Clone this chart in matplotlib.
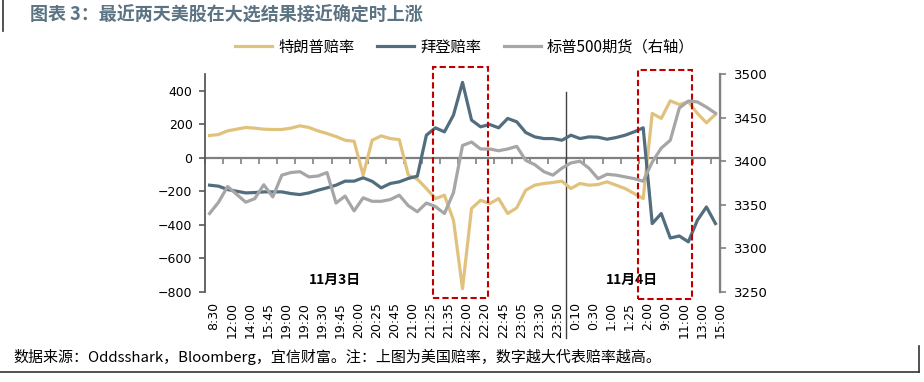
import numpy as np
import matplotlib
matplotlib.use("Agg")
import matplotlib.pyplot as plt
from matplotlib.lines import Line2D
from matplotlib.patches import Rectangle
from matplotlib.transforms import blended_transform_factory

plt.rcParams['font.family'] = ['Noto Sans CJK SC', 'DejaVu Sans']

# x labels, one label per two data points
labels_day1 = ["8:30", "12:00", "14:00", "15:45", "19:00", "19:20", "19:30", "19:45", "20:00", "20:25",
               "20:45", "21:00", "21:25", "21:35", "22:00", "22:20", "22:45", "23:05", "23:30", "23:50"]
labels_day2 = ["0:10", "0:30", "1:00", "1:25", "2:00", "9:00", "11:00", "13:00", "15:00"]

# Trump odds (left axis)
trump = [133, 139, 161, 171, 181, 177, 171, 169, 169, 177, 191, 181, 161, 145, 127, 105, 99, -103, 105,
         131, 115, 109, -103, -127, -183, -243, -223, -372, -780, -302, -253, -273, -243, -332, -298, -193, -163, -153,
         -147, -139, -183, -153, -163, -159, -143, -163, -183, -213, -243, 265, 235, 340, 318, 334, 265, 209, 259]
# Biden odds (left axis)
biden = [-163, -169, -189, -199, -209, -207, -203, -203, -203, -213, -219, -209, -193, -179, -163, -139, -139, -119, -140,
         -179, -153, -143, -123, -109, 135, 179, 155, 255, 450, 225, 185, 199, 179, 235, 215, 151, 125, 115,
         115, 105, 135, 115, 125, 123, 111, 121, 135, 155, 179, -392, -332, -478, -466, -501, -372, -293, -392]
# S&P 500 futures (right axis)
spx = [3340, 3353, 3371, 3362, 3353, 3357, 3373, 3359, 3384, 3387, 3388, 3382, 3383, 3387, 3352, 3360, 3343, 3358, 3354,
       3354, 3356, 3361, 3349, 3342, 3352, 3348, 3340, 3364, 3418, 3422, 3414, 3414, 3412, 3414, 3417, 3401, 3396, 3388,
       3384, 3392, 3398, 3400, 3392, 3380, 3385, 3384, 3382, 3380, 3377, 3399, 3415, 3424, 3461, 3469, 3468, 3462, 3455]

c_trump = "#E0C27C"
c_biden = "#526E7E"
c_spx = "#A6A6A6"

n = len(trump)
x = np.arange(n)
all_labels = labels_day1 + labels_day2

fig = plt.figure(figsize=(9.24, 3.82), dpi=100)
ax = fig.add_axes([0.2219, 0.2356, 0.5573, 0.5707])
ax2 = ax.twinx()

ax.plot(x, trump, color=c_trump, lw=2.3, label="特朗普赔率", zorder=3)
ax.plot(x, biden, color=c_biden, lw=2.3, label="拜登赔率", zorder=3)
ax2.plot(x, spx, color=c_spx, lw=2.3, label="标普500期货（右轴）", zorder=3)

ax.set_xlim(-0.5, n - 0.5)
ax.set_ylim(-800, 500)
ax2.set_ylim(3250, 3500)

ax.set_yticks(np.arange(-800, 401, 200))
ax2.set_yticks(np.arange(3250, 3501, 50))
for t in ax.get_yticklabels():
    t.set_family("DejaVu Sans")
for t in ax2.get_yticklabels():
    t.set_family("DejaVu Sans")
ax.tick_params(axis="y", direction="out", length=4, width=1.2, color="#595959", labelsize=9, pad=5)
ax2.tick_params(axis="y", direction="out", length=4, width=1.2, color="#808080", labelsize=9.5, pad=6)

# category labels centred between tick marks
ax.set_xticks(np.arange(len(all_labels)) * 2 + 0.5)
ax.set_xticklabels(all_labels, rotation=90, fontsize=9, family="DejaVu Sans")
ax.tick_params(axis="x", length=0, pad=7)

for a in (ax, ax2):
    a.spines["top"].set_visible(False)
    a.spines["bottom"].set_visible(False)
ax.spines["left"].set_color("#595959")
ax.spines["left"].set_linewidth(1.3)
ax2.spines["right"].set_color("#808080")
ax2.spines["right"].set_linewidth(1.6)
ax2.spines["left"].set_visible(False)

# zero axis with tick marks every two categories
zero_ax = ax.secondary_xaxis(0, transform=ax.transData)
zero_ax.set_xticks(np.arange(-0.5, n, 2))
zero_ax.set_xticklabels([])
zero_ax.tick_params(axis="x", direction="out", length=4, width=1.2, color="#808080")
zero_ax.spines["bottom"].set_color("#808080")
zero_ax.spines["bottom"].set_linewidth(1.6)

# day divider
trans = blended_transform_factory(ax.transData, fig.transFigure)
ax.add_line(Line2D([len(labels_day1) * 2 - 0.5] * 2, [0.759, 0.115], transform=trans,
                   color="#404040", lw=1.0, clip_on=False))

# red dashed boxes
for x0, x1, y0, y1 in [(24.7, 30.8, 0.2207, 0.8254), (47.4, 53.4, 0.2165, 0.8168)]:
    ax.add_patch(Rectangle((x0, y0), x1 - x0, y1 - y0, transform=trans, fill=False,
                           edgecolor="#C00000", lw=1.5, ls=(0, (3, 1.5)), clip_on=False, zorder=5))

tr_ax = blended_transform_factory(ax.transData, ax.transAxes)
ax.text(13.9, 0.055, "11月3日", transform=tr_ax, ha="center", va="center", fontsize=10, fontweight="bold")
ax.text(46.8, 0.055, "11月4日", transform=tr_ax, ha="center", va="center", fontsize=10, fontweight="bold")

h1, l1 = ax.get_legend_handles_labels()
h2, l2 = ax2.get_legend_handles_labels()
fig.legend(h1 + h2, l1 + l2, loc="center", bbox_to_anchor=(0.503, 0.877), ncol=3, frameon=False,
           fontsize=11, handlelength=2.4, columnspacing=1.5, handletextpad=0.4)

fig.text(0.033, 0.961, "图表 3：最近两天美股在大选结果接近确定时上涨", fontsize=13, fontweight="bold",
         color="#5B7383", va="center", ha="left")
fig.text(0.015, 0.065, "数据来源：Oddsshark，Bloomberg，宜信财富。注：上图为美国赔率，数字越大代表赔率越高。",
         fontsize=10.8, va="center", ha="left")

# frame decorations
fig.add_artist(Line2D([0.0035, 0.0035], [1.0, 0.92], color="#333333", lw=1.2))
fig.add_artist(Line2D([0.0, 0.995], [0.027, 0.027], color="#333333", lw=1.2))
fig.add_artist(Line2D([0.995, 0.995], [0.027, 0.095], color="#333333", lw=1.2))

fig.savefig("out.png", dpi=100)
